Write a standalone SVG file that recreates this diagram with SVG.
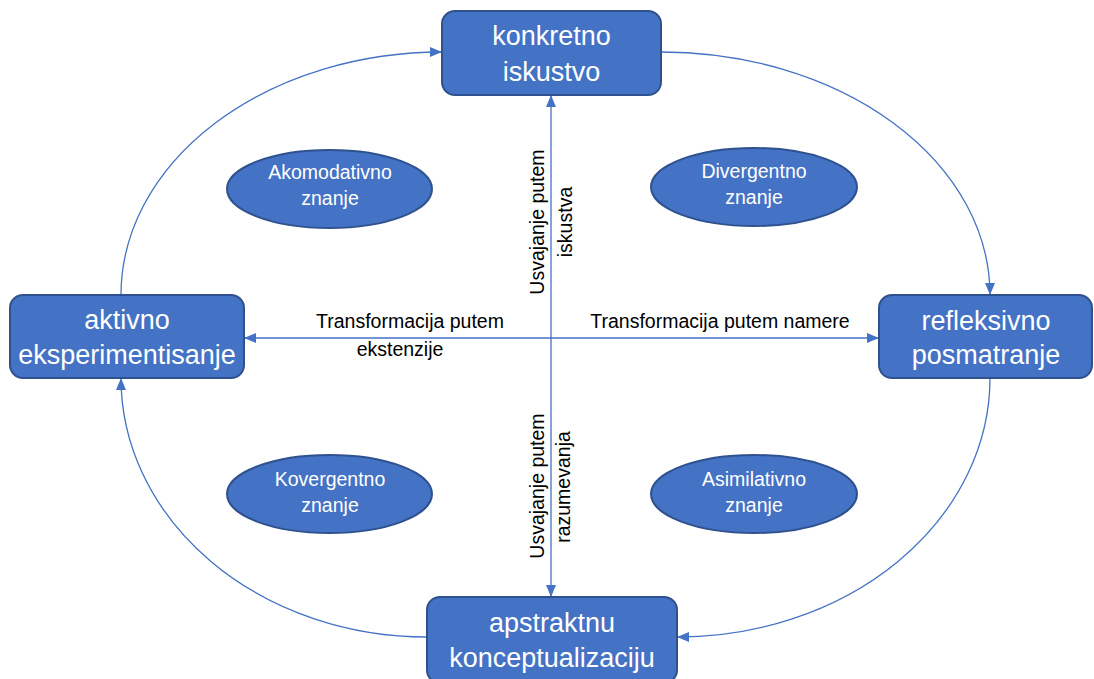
<svg xmlns="http://www.w3.org/2000/svg" width="1094" height="679" viewBox="0 0 1094 679">
  <defs>
    <marker id="arrow" viewBox="0 0 12 10" refX="12" refY="5" markerWidth="12" markerHeight="10" markerUnits="userSpaceOnUse" orient="auto-start-reverse">
      <path d="M0,0 L12,5 L0,10 Z" fill="#4472C4"/>
    </marker>
    <style>
      .box { fill: #4472C4; stroke: #2F528F; stroke-width: 2; }
      .oval { fill: #4472C4; stroke: #2F528F; stroke-width: 2; }
      .boxtxt { font-family: "Liberation Sans", Arial, sans-serif; font-size: 27px; fill: #ffffff; text-anchor: middle; }
      .ovaltxt { font-family: "Liberation Sans", Arial, sans-serif; font-size: 19.5px; fill: #ffffff; text-anchor: middle; }
      .lbl { font-family: "Liberation Sans", Arial, sans-serif; font-size: 19.5px; fill: #000000; text-anchor: middle; }
      .conn { fill: none; stroke: #4472C4; stroke-width: 1.3; }
    </style>
  </defs>
  <rect width="1094" height="679" fill="#ffffff"/>

  <!-- connectors -->
  <g id="connectors">
    <path class="conn" d="M121,295 A321,243 0 0 1 442,52" marker-end="url(#arrow)"/>
    <path class="conn" d="M661,52 A329,243 0 0 1 990,295" marker-end="url(#arrow)"/>
    <path class="conn" d="M990,378 A313,259 0 0 1 677,637" marker-end="url(#arrow)"/>
    <path class="conn" d="M427,637 A306,259 0 0 1 121,378" marker-end="url(#arrow)"/>
    <line class="conn" x1="551" y1="95" x2="551" y2="597" marker-start="url(#arrow)" marker-end="url(#arrow)"/>
    <line class="conn" x1="244" y1="338" x2="879" y2="338" marker-start="url(#arrow)" marker-end="url(#arrow)"/>
    <!-- axis labels -->
    <text class="lbl" x="410" y="328">Transformacija putem</text>
    <text class="lbl" x="400" y="356">ekstenzije</text>
    <text class="lbl" x="720" y="328">Transformacija putem namere</text>
    <text class="lbl" transform="translate(544,222) rotate(-90)">Usvajanje putem</text>
    <text class="lbl" transform="translate(572,222) rotate(-90)">iskustva</text>
    <text class="lbl" transform="translate(544,486) rotate(-90)">Usvajanje putem</text>
    <text class="lbl" transform="translate(570,487) rotate(-90)">razumevanja</text>
  </g>

  <!-- stages -->
  <g id="konkretno-iskustvo">
    <rect class="box" x="442" y="11" width="219" height="84" rx="13"/>
    <text class="boxtxt" x="551.5" y="45">konkretno</text>
    <text class="boxtxt" x="551.5" y="81">iskustvo</text>
  </g>
  <g id="aktivno-eksperimentisanje">
    <rect class="box" x="10" y="295" width="234" height="83" rx="13"/>
    <text class="boxtxt" x="127" y="329">aktivno</text>
    <text class="boxtxt" x="127" y="364">eksperimentisanje</text>
  </g>
  <g id="refleksivno-posmatranje">
    <rect class="box" x="879" y="295" width="213" height="83" rx="13"/>
    <text class="boxtxt" x="986" y="330">refleksivno</text>
    <text class="boxtxt" x="986" y="364">posmatranje</text>
  </g>
  <g id="apstraktnu-konceptualizaciju">
    <rect class="box" x="427" y="597" width="250" height="86" rx="13"/>
    <text class="boxtxt" x="552" y="632">apstraktnu</text>
    <text class="boxtxt" x="552" y="667">konceptualizaciju</text>
  </g>

  <!-- knowledge types -->
  <g id="akomodativno">
    <ellipse class="oval" cx="329.5" cy="189" rx="102.5" ry="39"/>
    <text class="ovaltxt" x="330" y="179">Akomodativno</text>
    <text class="ovaltxt" x="330" y="205">znanje</text>
  </g>
  <g id="divergentno">
    <ellipse class="oval" cx="754" cy="187" rx="103" ry="39"/>
    <text class="ovaltxt" x="754" y="178">Divergentno</text>
    <text class="ovaltxt" x="754" y="204">znanje</text>
  </g>
  <g id="kovergentno">
    <ellipse class="oval" cx="329.5" cy="494" rx="102.5" ry="39"/>
    <text class="ovaltxt" x="330" y="486">Kovergentno</text>
    <text class="ovaltxt" x="330" y="512">znanje</text>
  </g>
  <g id="asimilativno">
    <ellipse class="oval" cx="754" cy="494" rx="103" ry="39"/>
    <text class="ovaltxt" x="754" y="486">Asimilativno</text>
    <text class="ovaltxt" x="754" y="512">znanje</text>
  </g>
</svg>
